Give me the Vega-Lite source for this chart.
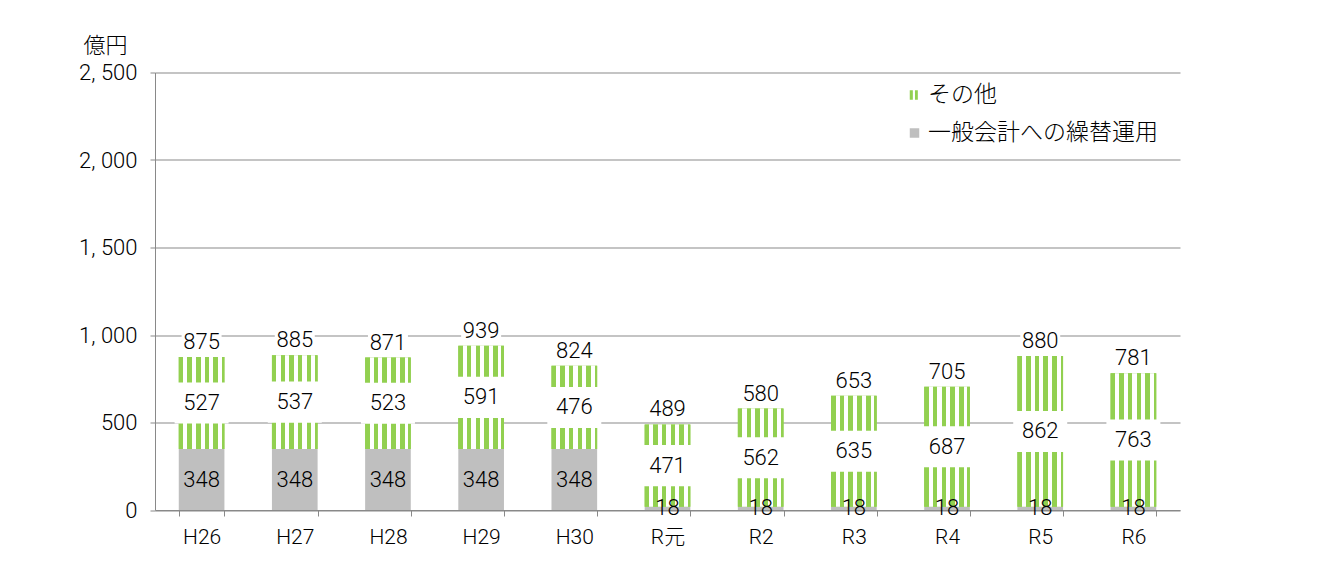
{
  "$schema": "https://vega.github.io/schema/vega-lite/v6.json",
  "width": 1025,
  "height": 437.5,
  "autosize": {"type": "none"},
  "padding": {"left": 155, "top": 72.5, "right": 154, "bottom": 55},
  "background": "white",
  "config": {
    "view": {"stroke": null},
    "font": "Liberation Sans Narrow, Roboto, Noto Sans CJK JP"
  },
  "data": {
    "values": [
      {"year": "H26", "type": "一般会計への繰替運用", "value": 348},
      {"year": "H26", "type": "その他", "value": 527},
      {"year": "H27", "type": "一般会計への繰替運用", "value": 348},
      {"year": "H27", "type": "その他", "value": 537},
      {"year": "H28", "type": "一般会計への繰替運用", "value": 348},
      {"year": "H28", "type": "その他", "value": 523},
      {"year": "H29", "type": "一般会計への繰替運用", "value": 348},
      {"year": "H29", "type": "その他", "value": 591},
      {"year": "H30", "type": "一般会計への繰替運用", "value": 348},
      {"year": "H30", "type": "その他", "value": 476},
      {"year": "R元", "type": "一般会計への繰替運用", "value": 18},
      {"year": "R元", "type": "その他", "value": 471},
      {"year": "R2", "type": "一般会計への繰替運用", "value": 18},
      {"year": "R2", "type": "その他", "value": 562},
      {"year": "R3", "type": "一般会計への繰替運用", "value": 18},
      {"year": "R3", "type": "その他", "value": 635},
      {"year": "R4", "type": "一般会計への繰替運用", "value": 18},
      {"year": "R4", "type": "その他", "value": 687},
      {"year": "R5", "type": "一般会計への繰替運用", "value": 18},
      {"year": "R5", "type": "その他", "value": 862},
      {"year": "R6", "type": "一般会計への繰替運用", "value": 18},
      {"year": "R6", "type": "その他", "value": 763}
    ]
  },
  "transform": [
    {"stack": "value", "groupby": ["year"], "sort": [{"field": "type", "order": "descending"}], "as": ["v0", "v1"]},
    {"joinaggregate": [{"op": "sum", "field": "value", "as": "total"}], "groupby": ["year"]},
    {"calculate": "(datum.v0 + datum.v1) / 2", "as": "mid"}
  ],
  "encoding": {
    "x": {
      "field": "year",
      "type": "nominal",
      "sort": ["H26", "H27", "H28", "H29", "H30", "R元", "R2", "R3", "R4", "R5", "R6"],
      "scale": {"paddingInner": 0.51, "paddingOuter": 0.255},
      "axis": {
        "title": null,
        "labelAngle": 0,
        "tickBand": "extent",
        "tickSize": 6,
        "tickColor": "#898989",
        "domainColor": "#898989",
        "labelFontSize": 21,
        "labelFontWeight": 300,
        "labelColor": "#000",
        "labelPadding": 10,
        "grid": false
      }
    }
  },
  "layer": [
    {
      "mark": {"type": "bar"},
      "encoding": {
        "y": {
          "field": "v0",
          "type": "quantitative",
          "scale": {"domain": [0, 2500], "nice": false},
          "axis": {
            "values": [0, 500, 1000, 1500, 2000, 2500],
            "labelExpr": "replace(format(datum.value, ','), ',', ', ')",
            "grid": true,
            "gridColor": "#898989",
            "domainColor": "#898989",
            "tickColor": "#898989",
            "tickSize": 5,
            "labelFontSize": 22,
            "labelFontWeight": 300,
            "labelColor": "#000",
            "labelPadding": 13,
            "title": "億円",
            "titleAngle": 0,
            "titleAlign": "center",
            "titleBaseline": "middle",
            "titleX": -50,
            "titleY": -27,
            "titleFont": "Noto Sans CJK JP",
            "titleFontSize": 22,
            "titleFontWeight": 300,
            "titleColor": "#000"
          }
        },
        "y2": {"field": "v1"},
        "color": {
          "field": "type",
          "type": "nominal",
          "scale": {"domain": ["その他", "一般会計への繰替運用"], "range": ["#92D050", "#BFBFBF"]},
          "legend": {
            "title": null,
            "orient": "none",
            "legendX": 748,
            "legendY": 11,
            "padding": 0,
            "symbolSize": 90,
            "symbolStrokeWidth": 0,
            "labelFont": "Noto Sans CJK JP",
            "labelFontSize": 23,
            "labelFontWeight": 300,
            "labelColor": "#000",
            "labelOffset": 2,
            "labelLimit": 400,
            "rowPadding": 14,
            "encode": {
              "symbols": {
                "update": {
                  "shape": [
                    {"test": "datum.value === 'その他'", "value": "M-1,-1H-0.35V1H-1Z M0.1,-1H0.7V1H0.1Z"},
                    {"value": "square"}
                  ]
                }
              }
            }
          }
        }
      }
    },
    {
      "transform": [{"filter": "datum.type === 'その他'"}],
      "mark": {
        "type": "bar",
        "fill": {
          "gradient": "linear",
          "x1": 0, "x2": 1, "y1": 0, "y2": 0,
          "stops": [
            {"offset": 0, "color": "#92D050"},
            {"offset": 0.098, "color": "#92D050"},
            {"offset": 0.098, "color": "#ffffff"},
            {"offset": 0.19, "color": "#ffffff"},
            {"offset": 0.19, "color": "#92D050"},
            {"offset": 0.288, "color": "#92D050"},
            {"offset": 0.288, "color": "#ffffff"},
            {"offset": 0.38, "color": "#ffffff"},
            {"offset": 0.38, "color": "#92D050"},
            {"offset": 0.478, "color": "#92D050"},
            {"offset": 0.478, "color": "#ffffff"},
            {"offset": 0.57, "color": "#ffffff"},
            {"offset": 0.57, "color": "#92D050"},
            {"offset": 0.668, "color": "#92D050"},
            {"offset": 0.668, "color": "#ffffff"},
            {"offset": 0.76, "color": "#ffffff"},
            {"offset": 0.76, "color": "#92D050"},
            {"offset": 0.865, "color": "#92D050"},
            {"offset": 0.865, "color": "#ffffff"},
            {"offset": 0.945, "color": "#ffffff"},
            {"offset": 0.945, "color": "#92D050"},
            {"offset": 1, "color": "#92D050"}
          ]
        }
      },
      "encoding": {
        "y": {"field": "v0", "type": "quantitative"},
        "y2": {"field": "v1"}
      }
    },
    {
      "transform": [{"filter": "datum.type === 'その他'"}],
      "mark": {"type": "point", "shape": "M-1,-0.76H1V0.76H-1Z", "size": 2916, "filled": true, "fill": "white", "opacity": 1, "strokeWidth": 0},
      "encoding": {
        "y": {"field": "mid", "type": "quantitative"}
      }
    },
    {
      "transform": [{"filter": "datum.type === 'その他'"}],
      "mark": {"type": "point", "shape": "M-1,-0.62H1V0.62H-1Z", "size": 1600, "filled": true, "fill": "white", "opacity": 1, "strokeWidth": 0, "yOffset": -15},
      "encoding": {
        "y": {"field": "total", "type": "quantitative"}
      }
    },
    {
      "mark": {"type": "text", "fontSize": 22, "fontWeight": 300, "color": "#000", "baseline": "middle"},
      "encoding": {
        "y": {"field": "mid", "type": "quantitative"},
        "text": {"field": "value", "type": "quantitative"}
      }
    },
    {
      "transform": [{"filter": "datum.type === 'その他'"}],
      "mark": {"type": "text", "fontSize": 22, "fontWeight": 300, "color": "#000", "baseline": "middle", "dy": -15},
      "encoding": {
        "y": {"field": "total", "type": "quantitative"},
        "text": {"field": "total", "type": "quantitative"}
      }
    }
  ]
}
